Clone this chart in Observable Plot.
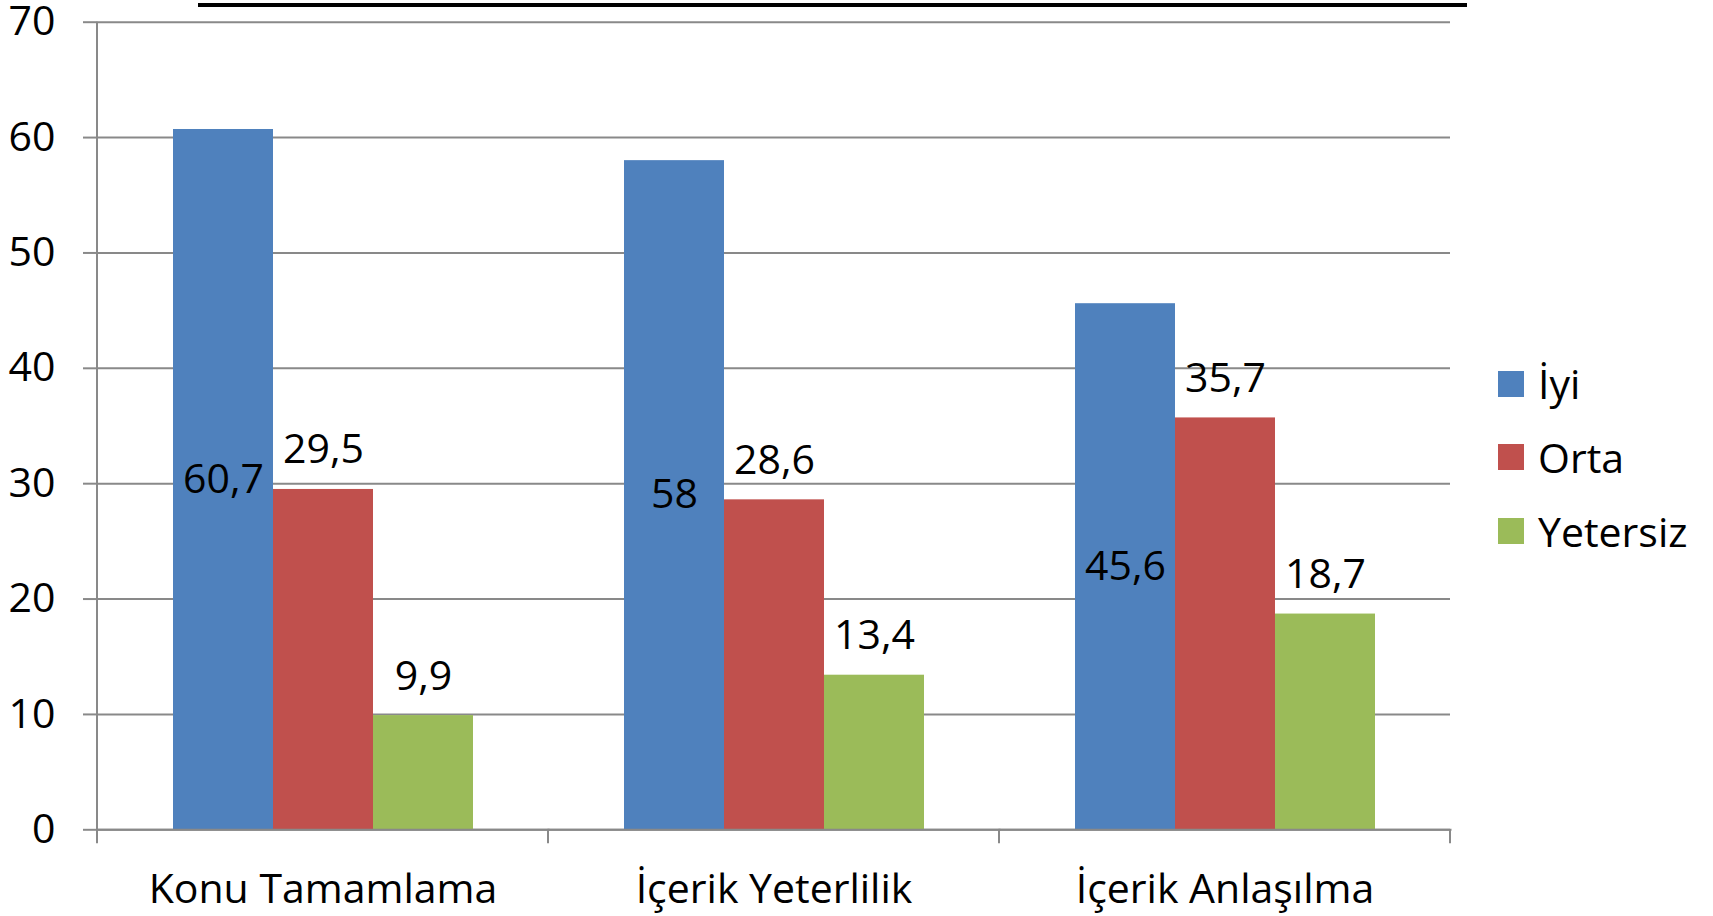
<!DOCTYPE html>
<html>
<head>
<meta charset="utf-8">
<script src="https://cdn.jsdelivr.net/npm/d3@7"></script>
<script src="https://cdn.jsdelivr.net/npm/@observablehq/plot@0.6"></script>
<style>
  body { margin: 0; background: #fff; font-family: "Open Sans", Lato, sans-serif; }
  #wrap { position: relative; width: 1713px; height: 916px; overflow: hidden; }
  #rule { position: absolute; left: 198px; top: 3px; width: 1269px; height: 4px; background: #000; }
  #legend { position: absolute; left: 1498px; top: 346.85px; }
  .item { display: flex; align-items: center; height: 73.7px; }
  .sw { width: 26px; height: 26px; margin-right: 14px; flex: none; }
  .lab { font-size: 41px; line-height: 1; color: #000; white-space: nowrap; }
</style>
</head>
<body>
<div id="wrap">
  <div id="rule"></div>
  <div id="chart"></div>
  <div id="legend"></div>
</div>
<script>
// ---- data ----
const categories = ["Konu Tamamlama", "İçerik Yeterlilik", "İçerik Anlaşılma"];
const series = ["İyi", "Orta", "Yetersiz"];
const iyi = [60.7, 58, 45.6];
const orta = [29.5, 28.6, 35.7];
const yetersiz = [9.9, 13.4, 18.7];
const colors = ["#4F81BD", "#C0504D", "#9BBB59"];
const yTicks = [0, 10, 20, 30, 40, 50, 60, 70];

const values = [iyi, orta, yetersiz];
const rows = [];
categories.forEach((c, i) => series.forEach((s, j) => rows.push({category: c, series: s, value: values[j][i]})));
const fmt = v => String(v).replace(".", ",");
const gray = "#898989";
const FS = 41;

const plot = Plot.plot({
  width: 1713,
  height: 916,
  marginLeft: 97,
  marginRight: 263,
  marginTop: 21.7,
  marginBottom: 86.7,
  style: {fontFamily: "'Open Sans', Lato, sans-serif", fontSize: FS + "px", color: "#000", background: "transparent", overflow: "visible"},
  fx: {domain: categories, padding: 0, label: null},
  x: {domain: series, paddingInner: 0, paddingOuter: 0.755, axis: null},
  y: {domain: [0, 70], label: null},
  color: {domain: series, range: colors},
  marks: [
    Plot.gridY(yTicks, {stroke: gray, strokeOpacity: 1, strokeWidth: 2}),
    Plot.barY(rows, {fx: "category", x: "series", y: "value", fill: "series"}),
    Plot.frame({anchor: "bottom", stroke: gray, strokeWidth: 2}),
    Plot.axisY(yTicks, {tickSize: 14, tickPadding: 28, stroke: gray, strokeWidth: 2, tickFormat: d => d, fontSize: FS, fill: "#000"}),
    Plot.axisFx({anchor: "bottom", tickSize: 0, tickPadding: 44, fontSize: FS, fill: "#000"}),
    Plot.text(rows.filter(r => r.series !== "İyi"), {
      fx: "category", x: "series", y: "value", text: d => fmt(d.value),
      lineAnchor: "bottom", dy: -26, fontSize: FS, fill: "#000"
    }),
    Plot.text(rows.filter(r => r.series === "İyi"), Plot.stackY({
      fx: "category", x: "series", y: "value", text: d => fmt(d.value),
      lineAnchor: "middle", fontSize: FS, fill: "#000"
    }))
  ]
});

// axis line on the left and category boundary ticks, from the plot's own scales
const fx = plot.scale("fx");
const ys = plot.scale("y");
const y0 = ys.apply(0);
const yTop = ys.apply(70);
const bounds = fx.domain.map(d => fx.apply(d));
bounds.push(fx.apply(fx.domain[fx.domain.length - 1]) + fx.step);
const g = d3.select(plot).append("g").attr("stroke", gray).attr("stroke-width", 2);
g.append("line").attr("x1", bounds[0]).attr("x2", bounds[0]).attr("y1", yTop).attr("y2", y0);
bounds.forEach(b => g.append("line").attr("x1", b).attr("x2", b).attr("y1", y0).attr("y2", y0 + 14));

document.getElementById("chart").append(plot);

// legend
const leg = d3.select("#legend");
series.forEach((s, i) => {
  const it = leg.append("div").attr("class", "item");
  it.append("div").attr("class", "sw").style("background", colors[i]);
  it.append("span").attr("class", "lab").text(s);
});
</script>
</body>
</html>
